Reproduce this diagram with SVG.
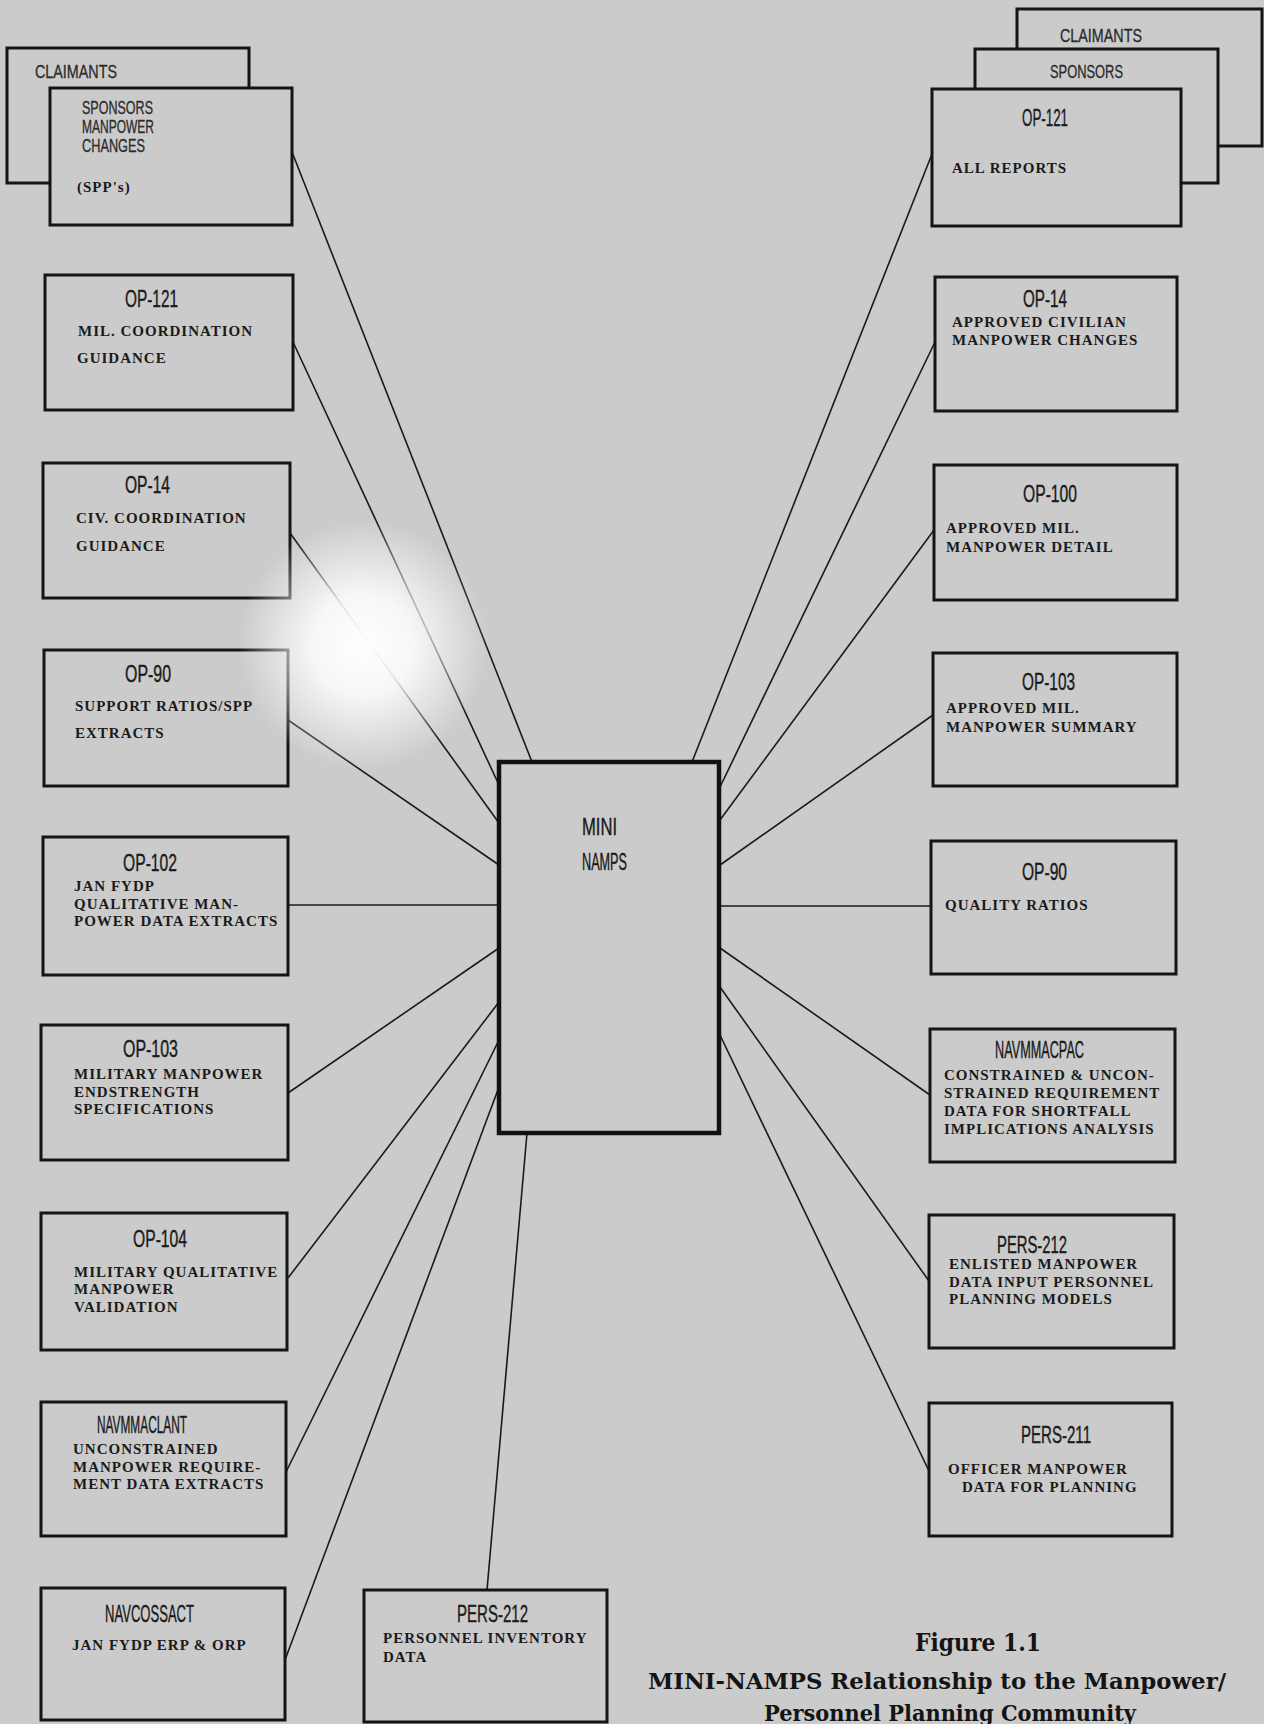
<svg xmlns="http://www.w3.org/2000/svg" width="1264" height="1724" viewBox="0 0 1264 1724">
<defs>
<radialGradient id="glare" cx="0.5" cy="0.5" r="0.5">
<stop offset="0" stop-color="#ffffff" stop-opacity="1"/>
<stop offset="0.4" stop-color="#ffffff" stop-opacity="0.85"/>
<stop offset="1" stop-color="#ffffff" stop-opacity="0"/>
</radialGradient>
<style>
.box{fill:#cbcbcb;stroke:#151515;stroke-width:3}
.ctr{fill:#cbcbcb;stroke:#111;stroke-width:4.5}
.c line{stroke:#1a1a1a;stroke-width:1.6;fill:none}
.t{font-family:"Liberation Sans Narrow","Liberation Sans",sans-serif;font-size:24px;fill:#1a1a1a;stroke:#1a1a1a;stroke-width:0.4}
.s{font-family:"Liberation Sans Narrow","Liberation Sans",sans-serif;font-size:19px;fill:#2a2a2a;stroke:#2a2a2a;stroke-width:0.3}
.b{font-family:"Liberation Serif",serif;font-weight:bold;font-size:15px;letter-spacing:1px;fill:#1a1a1a}
.cap{font-family:"DejaVu Serif","Liberation Serif",serif;font-weight:bold;fill:#141414}
</style>
</defs>
<rect x="0" y="0" width="1264" height="1724" fill="#cbcbcb"/>

<g id="connectors" class="c">
<line x1="292" y1="152" x2="532" y2="762"/>
<line x1="293" y1="342" x2="499" y2="785"/>
<line x1="290" y1="533" x2="499" y2="823"/>
<line x1="288" y1="720" x2="499" y2="865"/>
<line x1="288" y1="905" x2="499" y2="905"/>
<line x1="288" y1="1093" x2="499" y2="948"/>
<line x1="288" y1="1278" x2="499" y2="1002"/>
<line x1="286" y1="1472" x2="499" y2="1040"/>
<line x1="285" y1="1660" x2="499" y2="1087"/>
<line x1="487" y1="1590" x2="527" y2="1133"/>
<line x1="932" y1="154" x2="692" y2="762"/>
<line x1="935" y1="342" x2="720" y2="787"/>
<line x1="934" y1="530" x2="720" y2="820"/>
<line x1="933" y1="715" x2="720" y2="865"/>
<line x1="931" y1="906" x2="720" y2="906"/>
<line x1="930" y1="1095" x2="720" y2="948"/>
<line x1="929" y1="1281" x2="720" y2="987"/>
<line x1="929" y1="1471" x2="720" y2="1035"/>
</g>

<g id="claimants-left">
<rect class="box" x="7" y="48" width="242" height="135"/>
<text class="s" x="35" y="78" textLength="82" lengthAdjust="spacingAndGlyphs">CLAIMANTS</text>
</g>
<g id="sponsors-spp">
<rect class="box" x="50" y="88" width="242" height="137"/>
<text class="s" x="82" y="114" textLength="71" lengthAdjust="spacingAndGlyphs">SPONSORS</text>
<text class="s" x="82" y="133" textLength="72" lengthAdjust="spacingAndGlyphs">MANPOWER</text>
<text class="s" x="82" y="152" textLength="63" lengthAdjust="spacingAndGlyphs">CHANGES</text>
<text class="b" x="77" y="192">(SPP's)</text>
</g>

<g id="op121-mil">
<rect class="box" x="45" y="275" width="248" height="135"/>
<text class="t" x="125" y="307" textLength="53" lengthAdjust="spacingAndGlyphs">OP-121</text>
<text class="b" x="78" y="336">MIL. COORDINATION</text>
<text class="b" x="77" y="363">GUIDANCE</text>
</g>
<g id="op14-civ">
<rect class="box" x="43" y="463" width="247" height="135"/>
<text class="t" x="125" y="493" textLength="45" lengthAdjust="spacingAndGlyphs">OP-14</text>
<text class="b" x="76" y="523">CIV. COORDINATION</text>
<text class="b" x="76" y="551">GUIDANCE</text>
</g>
<g id="op90-support">
<rect class="box" x="44" y="650" width="244" height="136"/>
<text class="t" x="125" y="682" textLength="46" lengthAdjust="spacingAndGlyphs">OP-90</text>
<text class="b" x="75" y="711">SUPPORT RATIOS/SPP</text>
<text class="b" x="75" y="738">EXTRACTS</text>
</g>
<g id="op102">
<rect class="box" x="43" y="837" width="245" height="138"/>
<text class="t" x="123" y="871" textLength="54" lengthAdjust="spacingAndGlyphs">OP-102</text>
<text class="b" x="74" y="891">JAN FYDP</text>
<text class="b" x="74" y="909">QUALITATIVE MAN-</text>
<text class="b" x="74" y="926">POWER DATA EXTRACTS</text>
</g>
<g id="op103-mil">
<rect class="box" x="41" y="1025" width="247" height="135"/>
<text class="t" x="123" y="1057" textLength="55" lengthAdjust="spacingAndGlyphs">OP-103</text>
<text class="b" x="74" y="1079">MILITARY MANPOWER</text>
<text class="b" x="74" y="1097">ENDSTRENGTH</text>
<text class="b" x="74" y="1114">SPECIFICATIONS</text>
</g>
<g id="op104">
<rect class="box" x="41" y="1213" width="246" height="137"/>
<text class="t" x="133" y="1247" textLength="54" lengthAdjust="spacingAndGlyphs">OP-104</text>
<text class="b" x="74" y="1277">MILITARY QUALITATIVE</text>
<text class="b" x="74" y="1294">MANPOWER</text>
<text class="b" x="74" y="1312">VALIDATION</text>
</g>
<g id="navmmaclant">
<rect class="box" x="41" y="1402" width="245" height="134"/>
<text class="t" x="97" y="1433" textLength="90" lengthAdjust="spacingAndGlyphs">NAVMMACLANT</text>
<text class="b" x="73" y="1454">UNCONSTRAINED</text>
<text class="b" x="73" y="1472">MANPOWER REQUIRE-</text>
<text class="b" x="73" y="1489">MENT DATA EXTRACTS</text>
</g>
<g id="navcossact">
<rect class="box" x="41" y="1588" width="244" height="132"/>
<text class="t" x="105" y="1622" textLength="89" lengthAdjust="spacingAndGlyphs">NAVCOSSACT</text>
<text class="b" x="72" y="1650">JAN FYDP ERP &amp; ORP</text>
</g>

<g id="pers212-inventory">
<rect class="box" x="364" y="1590" width="243" height="132"/>
<text class="t" x="457" y="1622" textLength="71" lengthAdjust="spacingAndGlyphs">PERS-212</text>
<text class="b" x="383" y="1643">PERSONNEL INVENTORY</text>
<text class="b" x="383" y="1662">DATA</text>
</g>

<g id="mini-namps">
<rect class="ctr" x="499" y="762" width="220" height="371"/>
<text class="t" x="582" y="835" textLength="35" lengthAdjust="spacingAndGlyphs">MINI</text>
<text class="t" x="582" y="870" textLength="45" lengthAdjust="spacingAndGlyphs">NAMPS</text>
</g>

<g id="claimants-right">
<rect class="box" x="1017" y="9" width="245" height="137"/>
<text class="s" x="1060" y="42" textLength="82" lengthAdjust="spacingAndGlyphs">CLAIMANTS</text>
</g>
<g id="sponsors-right">
<rect class="box" x="975" y="49" width="243" height="134"/>
<text class="s" x="1050" y="78" textLength="73" lengthAdjust="spacingAndGlyphs">SPONSORS</text>
</g>
<g id="op121-reports">
<rect class="box" x="932" y="89" width="249" height="137"/>
<text class="t" x="1022" y="126" textLength="46" lengthAdjust="spacingAndGlyphs">OP-121</text>
<text class="b" x="952" y="173">ALL REPORTS</text>
</g>
<g id="op14-approved">
<rect class="box" x="935" y="277" width="242" height="134"/>
<text class="t" x="1023" y="307" textLength="44" lengthAdjust="spacingAndGlyphs">OP-14</text>
<text class="b" x="952" y="327">APPROVED CIVILIAN</text>
<text class="b" x="952" y="345">MANPOWER CHANGES</text>
</g>
<g id="op100">
<rect class="box" x="934" y="465" width="243" height="135"/>
<text class="t" x="1023" y="502" textLength="54" lengthAdjust="spacingAndGlyphs">OP-100</text>
<text class="b" x="946" y="533">APPROVED MIL.</text>
<text class="b" x="946" y="552">MANPOWER DETAIL</text>
</g>
<g id="op103-summary">
<rect class="box" x="933" y="653" width="244" height="133"/>
<text class="t" x="1022" y="690" textLength="53" lengthAdjust="spacingAndGlyphs">OP-103</text>
<text class="b" x="946" y="713">APPROVED MIL.</text>
<text class="b" x="946" y="732">MANPOWER SUMMARY</text>
</g>
<g id="op90-quality">
<rect class="box" x="931" y="841" width="245" height="133"/>
<text class="t" x="1022" y="880" textLength="45" lengthAdjust="spacingAndGlyphs">OP-90</text>
<text class="b" x="945" y="910">QUALITY RATIOS</text>
</g>
<g id="navmmacpac">
<rect class="box" x="930" y="1029" width="245" height="133"/>
<text class="t" x="995" y="1058" textLength="89" lengthAdjust="spacingAndGlyphs">NAVMMACPAC</text>
<text class="b" x="944" y="1080">CONSTRAINED &amp; UNCON-</text>
<text class="b" x="944" y="1098">STRAINED REQUIREMENT</text>
<text class="b" x="944" y="1116">DATA FOR SHORTFALL</text>
<text class="b" x="944" y="1134">IMPLICATIONS ANALYSIS</text>
</g>
<g id="pers212-enlisted">
<rect class="box" x="929" y="1215" width="245" height="133"/>
<text class="t" x="997" y="1253" textLength="70" lengthAdjust="spacingAndGlyphs">PERS-212</text>
<text class="b" x="949" y="1269">ENLISTED MANPOWER</text>
<text class="b" x="949" y="1287">DATA INPUT PERSONNEL</text>
<text class="b" x="949" y="1304">PLANNING MODELS</text>
</g>
<g id="pers211">
<rect class="box" x="929" y="1403" width="243" height="133"/>
<text class="t" x="1021" y="1443" textLength="70" lengthAdjust="spacingAndGlyphs">PERS-211</text>
<text class="b" x="948" y="1474">OFFICER MANPOWER</text>
<text class="b" x="962" y="1492">DATA FOR PLANNING</text>
</g>

<g id="caption">
<text class="cap" x="915" y="1651" font-size="25" textLength="126" lengthAdjust="spacingAndGlyphs">Figure 1.1</text>
<text class="cap" x="648" y="1689" font-size="23" textLength="578" lengthAdjust="spacingAndGlyphs">MINI-NAMPS Relationship to the Manpower/</text>
<text class="cap" x="764" y="1721" font-size="23" textLength="372" lengthAdjust="spacingAndGlyphs">Personnel Planning Community</text>
</g>

<circle cx="363" cy="645" r="125" fill="url(#glare)"/>
</svg>
